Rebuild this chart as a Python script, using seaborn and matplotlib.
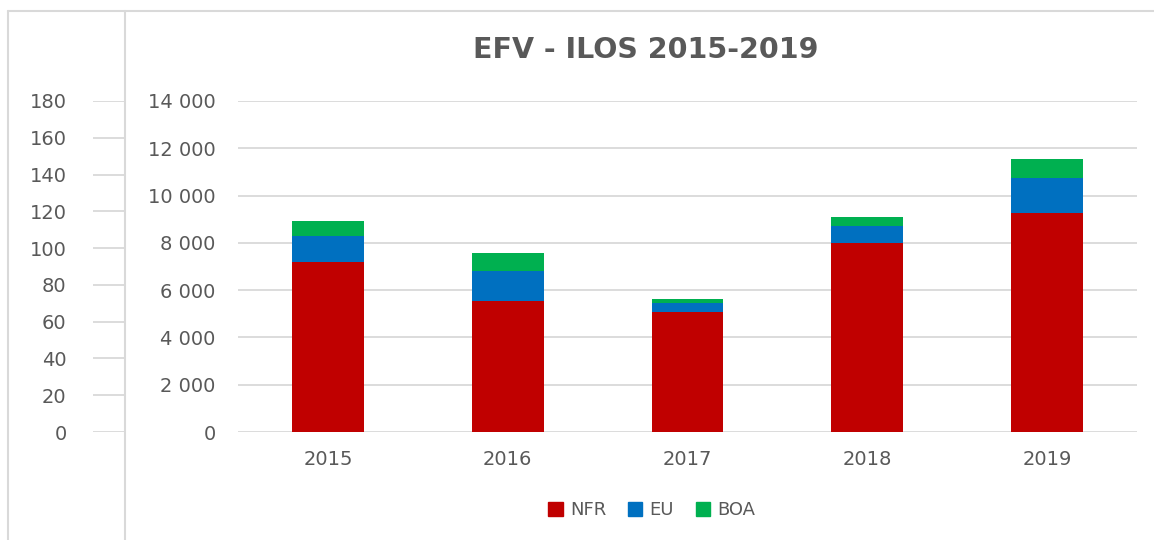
import matplotlib
matplotlib.use("Agg")
import matplotlib.pyplot as plt
import matplotlib.patches as mpatches
import matplotlib.ticker as mticker
import pandas as pd
import seaborn as sns

# ===== DATA =====
years = ["2015", "2016", "2017", "2018", "2019"]
nfr = [7200, 5540, 5070, 7980, 9250]
eu = [1100, 1270, 400, 720, 1500]
boa = [630, 770, 140, 390, 780]
left_ticks = list(range(0, 181, 20))
main_ticks = list(range(0, 14001, 2000))
title = "EFV - ILOS 2015-2019"

RED, BLUE, GREEN = "#C00000", "#0070C0", "#00B050"
TXT, GRID = "#595959", "#D9D9D9"

sns.set_theme(style="white")
plt.rcParams["font.family"] = ["DejaVu Sans"]

df = pd.DataFrame({"year": years, "NFR": nfr, "EU": eu, "BOA": boa})
df["nfr_eu"] = df["NFR"] + df["EU"]
df["total"] = df["nfr_eu"] + df["BOA"]

W, H = 1154, 540
fig = plt.figure(figsize=(W / 100, H / 100), dpi=100)


def box(x0, y0, x1, y1):
    return [x0 / W, 1 - y1 / H, (x1 - x0) / W, (y1 - y0) / H]


# ===== MAIN STACKED BARS =====
ax = fig.add_axes(box(238, 101, 1137, 432))
for col, c in [("total", GREEN), ("nfr_eu", BLUE), ("NFR", RED)]:
    sns.barplot(data=df, x="year", y=col, color=c, width=0.4,
                saturation=1, linewidth=0, ax=ax)
ax.set_ylim(0, 14000)
ax.set_yticks(main_ticks)
ax.yaxis.set_major_formatter(
    mticker.FuncFormatter(lambda v, p: f"{int(v):,}".replace(",", " ")))
ax.yaxis.grid(True, color=GRID, lw=1.3)
ax.set_axisbelow(True)
for s in ax.spines.values():
    s.set_visible(False)
ax.set_xlabel("")
ax.set_ylabel("")
ax.tick_params(axis="y", length=0, pad=16, labelsize=14, labelcolor=TXT)
ax.tick_params(axis="x", length=0, pad=13, labelsize=14, labelcolor=TXT)

# ===== LEFT GHOST AXIS 0-180 =====
ax2 = fig.add_axes(box(93, 101, 125, 432))
ax2.set_ylim(0, 180)
ax2.set_yticks(left_ticks)
ax2.set_xticks([])
ax2.yaxis.grid(True, color=GRID, lw=1.3)
for s in ax2.spines.values():
    s.set_visible(False)
ax2.tick_params(axis="y", length=0, pad=19, labelsize=14, labelcolor=TXT)

# ===== FRAME LINES =====
for xs, ys in [([125, 125], [11, 540]), ([8, 8], [11, 540]), ([8, 1154], [11, 11])]:
    fig.add_artist(plt.Line2D([x / W for x in xs], [1 - y / H for y in ys],
                              color=GRID, lw=1.5, transform=fig.transFigure))

# ===== TITLE + LEGEND =====
fig.text(646 / W, 1 - 50 / H, title, ha="center", va="center",
         fontsize=20.5, fontweight="bold", color=TXT)

handles = [mpatches.Patch(color=c, label=l)
           for c, l in [(RED, "NFR"), (BLUE, "EU"), (GREEN, "BOA")]]
fig.legend(handles=handles, loc="center", bbox_to_anchor=(652 / W, 1 - 510 / H),
           ncol=3, frameon=False, fontsize=13, labelcolor=TXT,
           handlelength=0.8, handleheight=0.8, handletextpad=0.4,
           columnspacing=1.2)

fig.savefig("out.png", dpi=100)
